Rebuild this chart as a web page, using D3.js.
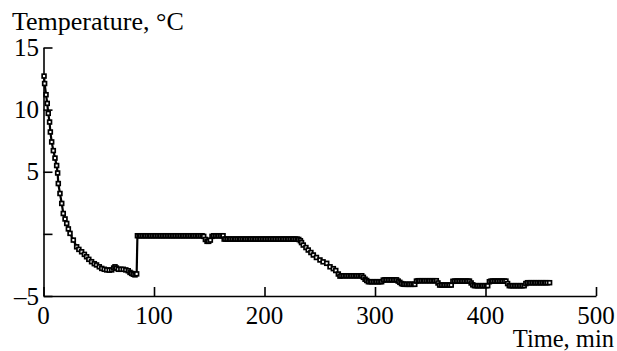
<!DOCTYPE html>
<html>
<head>
<meta charset="utf-8">
<script src="https://cdn.jsdelivr.net/npm/d3@7"></script>
<style>
  body { margin: 0; background: #fff; }
</style>
</head>
<body>
<div id="chart"></div>
<script>

// cooling after start (time, min / temperature, °C)
const cooling = [
    [0.5, 12.7], [1, 12.1], [2.3, 11.2], [3.4, 10.5], [4.3, 9.7], [5.5, 9.0],
    [6.2, 8.2], [7.4, 7.4], [8.9, 6.7], [10.4, 6.1], [11.9, 5.5], [12.8, 4.9],
    [13.4, 4.05], [14.9, 3.25], [16.5, 2.45], [17.9, 1.64], [19.5, 1.2], [21, 0.84],
    [22.5, 0.4], [24, 0.04], [27, -0.5], [30, -1.04], [32, -1.25], [34.5, -1.44],
    [37, -1.65], [39, -1.84], [41, -2.05], [43.5, -2.24], [46, -2.4], [48, -2.5],
    [50.5, -2.65], [52.7, -2.78], [55, -2.85], [57.2, -2.9], [59.5, -2.92], [61.7, -2.9],
    [63.5, -2.75], [64.7, -2.65], [66, -2.75], [67.7, -2.85], [70, -2.85], [72.2, -2.85],
    [74.5, -2.9], [76.7, -2.97], [78.3, -3.1], [79.8, -3.18], [81.3, -3.25], [82.8, -3.3],
    [84.3, -3.22]
];

// first holding stage
const holding1 = [
    [85, -0.15], [86.5, -0.15], [88, -0.15], [89.5, -0.15], [91, -0.15], [92.5, -0.15],
    [94, -0.15], [95.5, -0.15], [97, -0.15], [98.5, -0.15], [100, -0.15], [101.5, -0.15],
    [103, -0.15], [104.5, -0.15], [106, -0.15], [107.5, -0.15], [109, -0.15], [110.5, -0.15],
    [112, -0.15], [113.5, -0.15], [115, -0.15], [116.5, -0.15], [118, -0.15], [119.5, -0.15],
    [121, -0.15], [122.5, -0.15], [124, -0.15], [125.5, -0.15], [127, -0.15], [128.5, -0.15],
    [130, -0.15], [131.5, -0.15], [133, -0.15], [134.5, -0.15], [136, -0.15], [137.5, -0.15],
    [139, -0.15], [140.5, -0.15], [142, -0.15], [143.5, -0.15], [145, -0.2], [146.5, -0.45],
    [148, -0.6], [149.5, -0.6], [151, -0.5], [152.5, -0.2], [154, -0.15], [155.5, -0.15],
    [157, -0.15], [158.5, -0.15], [160, -0.15], [161.5, -0.15], [162.5, -0.15]
];

// second holding stage
const holding2 = [
    [163.5, -0.42], [165, -0.42], [166.5, -0.42], [168, -0.42], [169.5, -0.42], [171, -0.42],
    [172.5, -0.42], [174, -0.42], [175.5, -0.42], [177, -0.42], [178.5, -0.42], [180, -0.42],
    [181.5, -0.42], [183, -0.42], [184.5, -0.42], [186, -0.42], [187.5, -0.42], [189, -0.42],
    [190.5, -0.42], [192, -0.42], [193.5, -0.42], [195, -0.42], [196.5, -0.42], [198, -0.42],
    [199.5, -0.42], [201, -0.42], [202.5, -0.42], [204, -0.42], [205.5, -0.42], [207, -0.42],
    [208.5, -0.42], [210, -0.42], [211.5, -0.42], [213, -0.42], [214.5, -0.42], [216, -0.42],
    [217.5, -0.42], [219, -0.42], [220.5, -0.42], [222, -0.42], [223.5, -0.42], [225, -0.42],
    [226.5, -0.42], [228, -0.42], [229.5, -0.42], [231, -0.45]
];

// second cooling ramp
const ramp = [
    [232.5, -0.55], [233.5, -0.7], [235.1, -0.9], [237.5, -1.1], [239.6, -1.3], [242, -1.5],
    [244.2, -1.7], [247, -1.9], [250.2, -2.1], [253, -2.25], [256.3, -2.37], [259.3, -2.65],
    [262.3, -2.8], [264.5, -2.95], [266.8, -3.23], [268.3, -3.4]
];

// final stage
const final = [
    [270, -3.37], [271.5, -3.37], [273, -3.37], [274.5, -3.37], [276, -3.37], [277.5, -3.37],
    [279, -3.37], [280.5, -3.37], [282, -3.37], [283.5, -3.37], [285, -3.37], [286.5, -3.37],
    [288, -3.37], [289.5, -3.5], [291, -3.65], [292.5, -3.75], [294, -3.85], [295.5, -3.85],
    [297, -3.85], [298.5, -3.85], [300, -3.85], [301.5, -3.85], [303, -3.85], [304.5, -3.85],
    [306, -3.85], [307.5, -3.72], [309, -3.7], [310.5, -3.7], [312, -3.7], [313.5, -3.7],
    [315, -3.7], [316.5, -3.7], [318, -3.7], [319.5, -3.7], [321, -3.8], [322.5, -3.9],
    [324, -4.0], [325.5, -4.05], [327, -4.06], [328.5, -4.06], [330, -4.06], [331.5, -4.06],
    [333, -4.06], [334.5, -4.06], [336, -4.06], [337.5, -3.8], [339, -3.77], [340.5, -3.77],
    [342, -3.77], [343.5, -3.77], [345, -3.77], [346.5, -3.77], [348, -3.77], [349.5, -3.77],
    [351, -3.77], [352.5, -3.77], [354, -3.77], [355.5, -3.77], [357, -3.95], [358.5, -4.12],
    [360, -4.12], [361.5, -4.12], [363, -4.12], [364.5, -4.12], [366, -4.12], [367.5, -4.12],
    [369, -4.12], [370.5, -3.82], [372, -3.8], [373.5, -3.8], [375, -3.8], [376.5, -3.8],
    [378, -3.8], [379.5, -3.8], [381, -3.8], [382.5, -3.8], [384, -3.8], [385.5, -3.8],
    [387, -3.95], [388.5, -4.1], [390, -4.17], [391.5, -4.17], [393, -4.17], [394.5, -4.17],
    [396, -4.17], [397.5, -4.17], [399, -4.17], [400.5, -4.17], [402, -4.17], [403.5, -3.85],
    [405, -3.8], [406.5, -3.8], [408, -3.8], [409.5, -3.8], [411, -3.8], [412.5, -3.8],
    [414, -3.8], [415.5, -3.8], [417, -3.8], [418.5, -3.8], [420, -4.0], [421.5, -4.17],
    [423, -4.17], [424.5, -4.17], [426, -4.17], [427.5, -4.17], [429, -4.17], [430.5, -4.17],
    [432, -4.17], [433.5, -4.17], [435, -4.17], [436.5, -4.0], [438, -3.93], [439.5, -3.93],
    [441, -3.93], [442.5, -3.93], [444, -3.93], [445.5, -3.93], [447, -3.93], [448.5, -3.93],
    [450, -3.93], [451.5, -3.93], [453, -3.93], [454.5, -3.93], [456, -3.93], [458, -3.93]
];

const xTicks = [0, 100, 200, 300, 400, 500];
const yTicks = [-5, 0, 5, 10, 15];
const yTickLabels = ["\u20135", "", "5", "10", "15"];

const width = 617, height = 351;
const serif = "'Liberation Serif', 'Times New Roman', Times, 'DejaVu Serif', serif";

const svg = d3.select("#chart")
    .append("svg")
    .attr("width", width)
    .attr("height", height);

const x = d3.scaleLinear().domain([0, 500]).range([43.5, 596]);
const y = d3.scaleLinear().domain([-5, 15]).range([296, 47.5]);

// axes: ticks point inward, labels drawn separately
const xAxis = svg.append("g")
    .attr("transform", `translate(0,${y(-5)})`)
    .call(d3.axisBottom(x).tickValues(xTicks).tickSizeInner(-9).tickSizeOuter(0).tickFormat(""));

const yAxis = svg.append("g")
    .attr("transform", `translate(${x(0)},0)`)
    .call(d3.axisLeft(y).tickValues(yTicks).tickSizeInner(-9).tickSizeOuter(0).tickFormat(""));

[xAxis, yAxis].forEach(g => {
    g.select(".domain").attr("stroke", "#000").attr("stroke-width", 1.6);
    g.selectAll(".tick line").attr("stroke", "#000").attr("stroke-width", 1.6);
});

svg.append("g")
    .selectAll("text")
    .data(xTicks)
    .enter()
    .append("text")
    .attr("x", d => x(d))
    .attr("y", 324)
    .attr("text-anchor", "middle")
    .attr("font-family", serif)
    .attr("font-size", 25)
    .text(d => d);

svg.append("g")
    .selectAll("text")
    .data(yTicks)
    .enter()
    .append("text")
    .attr("x", 39)
    .attr("y", d => y(d) + 8.5)
    .attr("text-anchor", "end")
    .attr("font-family", serif)
    .attr("font-size", 25)
    .text((d, i) => yTickLabels[i]);

svg.append("text")
    .attr("x", 12)
    .attr("y", 30)
    .attr("font-family", serif)
    .attr("font-size", 26)
    .text("Temperature, \u00b0C");

svg.append("text")
    .attr("x", 614)
    .attr("y", 347)
    .attr("text-anchor", "end")
    .attr("font-family", serif)
    .attr("font-size", 24.5)
    .text("Time, min");

// one continuous record
const series = [].concat(cooling, holding1, holding2, ramp, final);

const line = d3.line()
    .x(d => x(d[0]))
    .y(d => y(d[1]));

svg.append("path")
    .datum(series)
    .attr("d", line)
    .attr("fill", "none")
    .attr("stroke", "#000")
    .attr("stroke-width", 2.2);

svg.append("g")
    .selectAll("rect")
    .data(series)
    .enter()
    .append("rect")
    .attr("x", d => x(d[0]) - 1.9)
    .attr("y", d => y(d[1]) - 1.9)
    .attr("width", 3.8)
    .attr("height", 3.8)
    .attr("fill", "#fff")
    .attr("stroke", "#000")
    .attr("stroke-width", 1.7);

</script>
</body>
</html>
